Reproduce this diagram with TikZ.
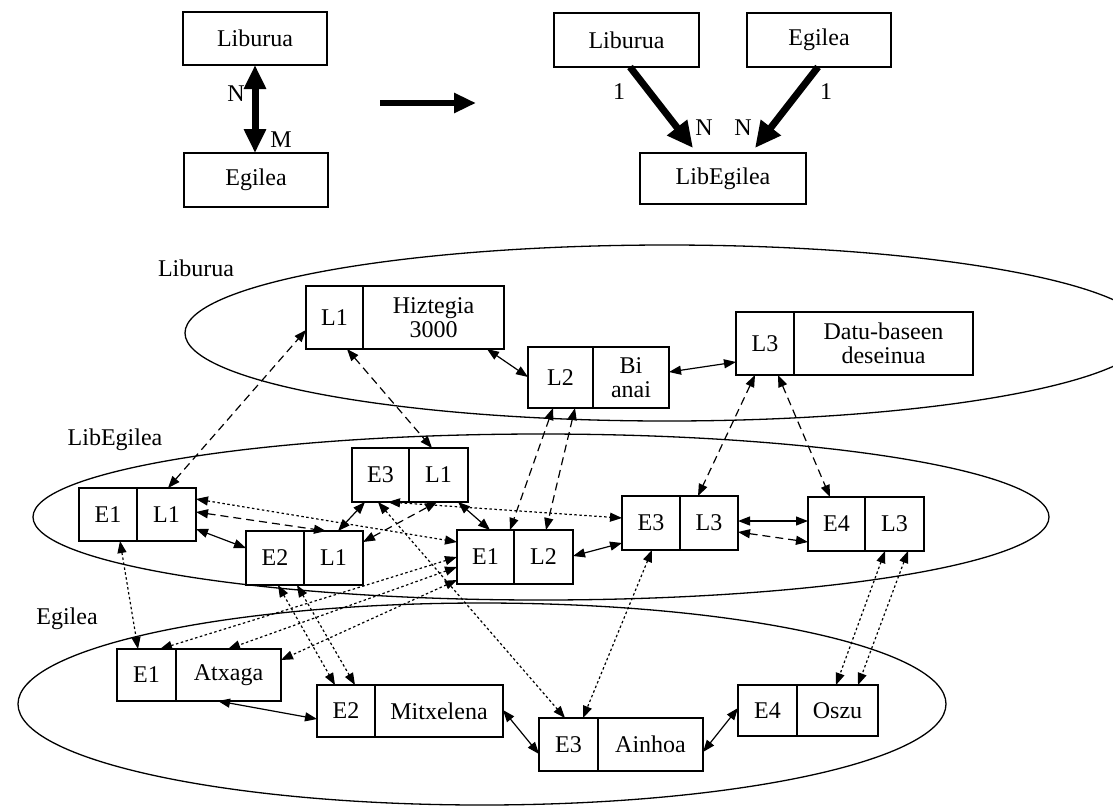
\documentclass[tikz,border=0pt]{standalone}
\usepackage{fontspec}
\setmainfont{Liberation Serif}
\usetikzlibrary{arrows.meta}
\newcommand\fs{\fontsize{24}{24.5}\selectfont}
% one record: name, x, y (top left), left width, height, right width, left text, right text
\newcommand\drawrecord[8]{%
  \node[cell, anchor=north west, minimum width=#4pt, minimum height=#5pt] (#1-a) at (#2,#3) {#7};
  \node[cell, anchor=north west, minimum width=#6pt, minimum height=#5pt] (#1-b) at (#1-a.north east) {#8};}
\tikzset{
  cell/.style={draw, line width=1.2pt, inner sep=0pt, outer sep=0pt, align=center, font=\fs},
  ent/.style={cell},
  lbl/.style={font=\fs, inner sep=0pt},
  region/.style={draw, line width=1.3pt},
  link/.style={line width=1.2pt, {Triangle[length=12pt,width=9pt]}-{Triangle[length=12pt,width=9pt]}},
  dashlink/.style={link, dash pattern=on 8pt off 5pt},
  dotlink/.style={link, dash pattern=on 2.5pt off 2.5pt},
  bold/.style={line width=7pt},
}
\begin{document}
\begin{tikzpicture}[x=1pt,y=-1pt]
\useasboundingbox (0,0) rectangle (1113,807);
\fill[white] (0,0) rectangle (1113,807);

% ---------- upper part: N:M relationship and its resolution ----------
\node[ent, anchor=north west, minimum width=144pt, minimum height=53pt] (tLib) at (183,12) {Liburua};
\node[ent, anchor=north west, minimum width=144pt, minimum height=54pt] (tEgi) at (184,153) {Egilea};
\draw[bold, {Triangle[length=24pt,width=21pt]}-{Triangle[length=24pt,width=21pt]}]
  (tLib.south) -- (tLib.south |- tEgi.north);
\node[lbl] (nN) at (236,94) {N};
\node[lbl] (nM) at (281,140) {M};

\coordinate (m1) at (380,103);
\coordinate (m2) at (476,103);
\draw[line width=6pt, -{Triangle[length=22pt,width=19pt]}] (m1) -- (m2);

\node[ent, anchor=north west, minimum width=145pt, minimum height=54pt] (rLib) at (554,13) {Liburua};
\node[ent, anchor=north west, minimum width=144pt, minimum height=54pt] (rEgi) at (747,13) {Egilea};
\node[ent, anchor=north west, minimum width=166pt, minimum height=51pt] (rLE) at (640,153) {LibEgilea};
\draw[bold, -{Triangle[length=26pt,width=24pt]}] ([xshift=3.5pt]rLib.south) -- ([xshift=-30pt,yshift=5pt]rLE.north);
\draw[bold, -{Triangle[length=26pt,width=24pt]}] ([xshift=-1pt]rEgi.south) -- ([xshift=32pt,yshift=5pt]rLE.north);
\node[lbl] (o1) at (619,92) {1};
\node[lbl] (n1) at (704,128) {N};
\node[lbl] (o2) at (826,92) {1};
\node[lbl] (n2) at (743,128) {N};

% ---------- lower part: the three sets ----------
\draw[region] (667,333) ellipse [x radius=482, y radius=88];
\draw[region] (541,517) ellipse [x radius=508, y radius=83];
\draw[region] (482,704) ellipse [x radius=464, y radius=101];

\node[lbl] (sLib) at (196,268) {Liburua};
\node[lbl] (sLE) at (115,440) {LibEgilea};
\node[lbl] (sEgi) at (67,619) {Egilea};

% books
\drawrecord{hz}{306}{286}{57}{63}{141}{L1}{Hiztegia\\3000}
\drawrecord{bi}{528}{347}{65}{61}{76}{L2}{Bi\\anai}
\drawrecord{dt}{736}{312}{58}{63}{179}{L3}{Datu-baseen\\deseinua}
% book-author pairs
\drawrecord{ea}{79}{488}{58}{53}{59}{E1}{L1}
\drawrecord{ec}{352}{448}{57}{54}{59}{E3}{L1}
\drawrecord{eb}{246}{531}{58}{54}{59}{E2}{L1}
\drawrecord{ed}{457}{530}{57}{54}{59}{E1}{L2}
\drawrecord{ee}{622}{496}{58}{54}{58}{E3}{L3}
\drawrecord{ef}{808}{497}{57}{54}{59}{E4}{L3}
% authors
\drawrecord{ga}{117}{649}{59}{52}{105}{E1}{Atxaga}
\drawrecord{gb}{317}{685}{58}{52}{128}{E2}{Mitxelena}
\drawrecord{gc}{539}{718}{59}{53}{105}{E3}{Ainhoa}
\drawrecord{gd}{738}{685}{59}{51}{81}{E4}{Oszu}

% order inside each set (solid)
\draw[link] ([xshift=181pt]hz-a.south west) -- ([yshift=-30pt]bi-a.north west);
\draw[link] ([yshift=-25pt]bi-b.north east) -- ([yshift=-50pt]dt-a.north west);
\draw[link] ([yshift=-41pt]ea-b.north east) -- ([yshift=-17pt]eb-a.north west);
\draw[link] ([xshift=34pt]eb-b.north west) -- ([xshift=13pt]ec-a.south west);
\draw[link] ([xshift=-10pt]ec-b.south east) -- ([xshift=33pt]ed-a.north west);
\draw[link] ([yshift=-26pt]ed-b.north east) -- ([yshift=-47pt]ee-a.north west);
\draw[link] ([yshift=-25pt]ee-b.north east) -- ([yshift=-24pt]ef-a.north west);
\draw[link] ([xshift=42pt]ga-b.south west) -- ([yshift=-34pt]gb-a.north west);
\draw[link] ([yshift=-25pt]gb-b.north east) -- ([yshift=-36pt]gc-a.north west);
\draw[link] ([yshift=-34pt]gc-b.north east) -- ([yshift=-23pt]gd-a.north west);

% book links (dashed)
\draw[dashlink] ([xshift=-28pt]ea-b.north east) -- ([yshift=-44pt]hz-a.north west);
\draw[dashlink] ([xshift=41pt]hz-a.south west) -- ([xshift=-36pt]ec-b.north east);
\draw[dashlink] ([xshift=25pt]bi-a.south west) -- ([xshift=-4pt]ed-a.north east);
\draw[dashlink] ([xshift=47pt]bi-a.south west) -- ([xshift=32pt]ed-b.north west);
\draw[dashlink] ([xshift=19pt]dt-a.south west) -- ([xshift=18pt]ee-b.north west);
\draw[dashlink] ([xshift=42pt]dt-a.south west) -- ([xshift=22pt]ef-a.north west);
\draw[dashlink] ([yshift=-24pt]ea-b.north east) -- ([xshift=22pt]eb-b.north west);
\draw[dashlink] ([yshift=-11pt]eb-b.north east) -- ([xshift=-31pt]ec-b.south east);
\draw[dashlink] ([yshift=-36pt]ee-b.north east) -- ([yshift=-45pt]ef-a.north west);

% author links (dotted)
\draw[dotlink] ([yshift=-11pt]ea-b.north east) -- ([yshift=-12pt]ed-a.north west);
\draw[dotlink] ([xshift=36pt]ec-a.south west) -- ([yshift=-22pt]ee-a.north west);
\draw[dotlink] ([xshift=41pt]ea-a.south west) -- ([xshift=21pt]ga-a.north west);
\draw[dotlink] ([xshift=32pt]eb-a.south west) -- ([xshift=18pt]gb-a.north west);
\draw[dotlink] ([xshift=51pt]eb-a.south west) -- ([xshift=38pt]gb-a.north west);
\draw[dotlink] ([yshift=-27pt]ed-a.north west) -- ([xshift=43pt]ga-a.north west);
\draw[dotlink] ([yshift=-37pt]ed-a.north west) -- ([xshift=52pt]ga-b.north west);
\draw[dotlink] ([yshift=-50pt]ed-a.north west) -- ([yshift=-11pt]ga-b.north east);
\draw[dotlink] ([xshift=26pt]ec-a.south west) -- ([xshift=26pt]gc-a.north west);
\draw[dotlink] ([xshift=30pt]ee-a.south west) -- ([xshift=44pt]gc-a.north west);
\draw[dotlink] ([xshift=20pt]ef-b.south west) -- ([xshift=39pt]gd-b.north west);
\draw[dotlink] ([xshift=43pt]ef-b.south west) -- ([xshift=61pt]gd-b.north west);
\end{tikzpicture}
\end{document}
